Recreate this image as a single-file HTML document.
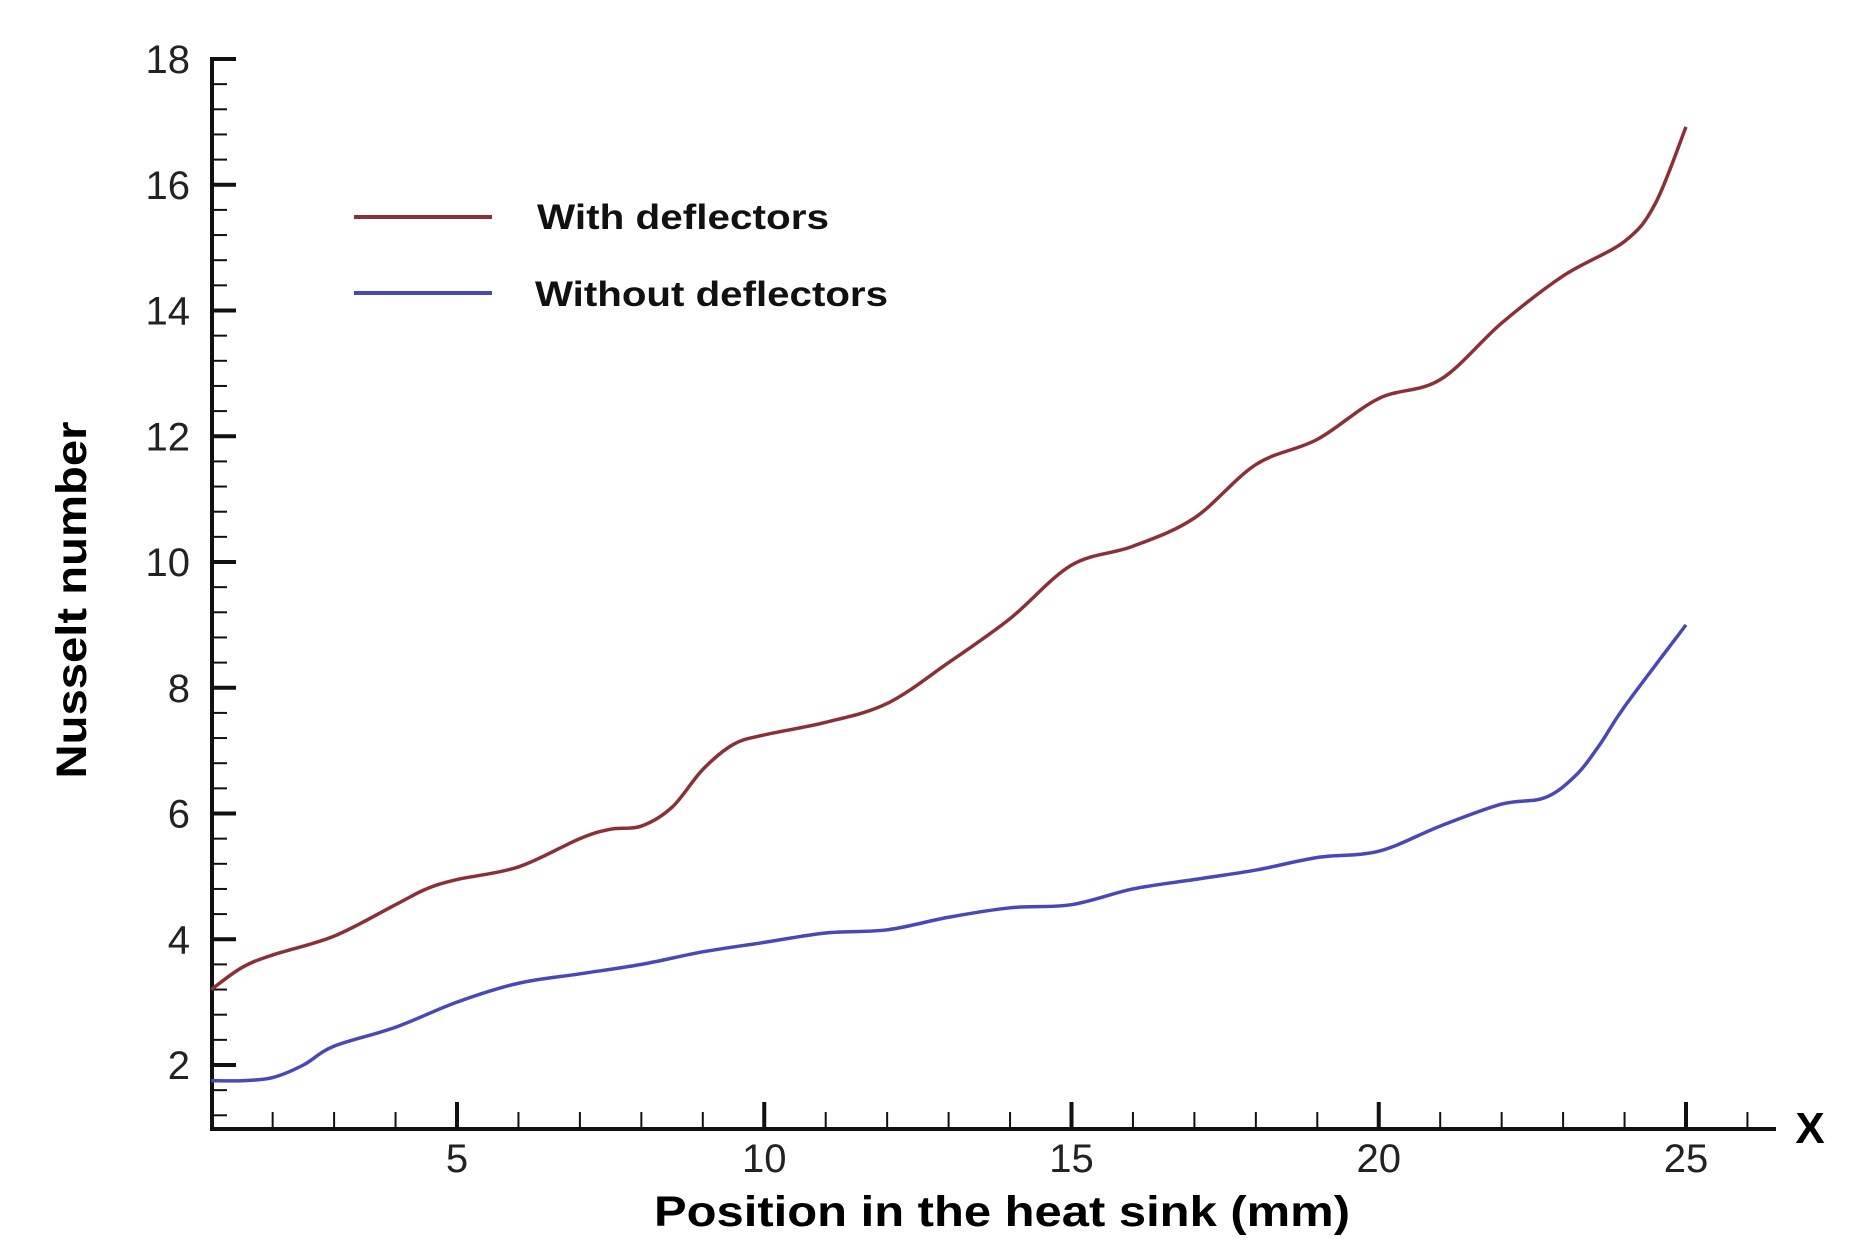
<!DOCTYPE html>
<html><head><meta charset="utf-8"><style>
html,body{margin:0;padding:0;background:#fff;}
svg{display:block;font-family:"Liberation Sans",Arial,sans-serif;}
</style></head><body>
<svg id="chart" width="1855" height="1259" viewBox="0 0 1855 1259">
<g id="axes"></g>
<g id="series"></g>
<text x="1810" y="1143" font-size="44" font-weight="bold" text-anchor="middle">X</text>
<text x="1002" y="1226" font-size="43" font-weight="bold" text-anchor="middle" textLength="696" lengthAdjust="spacingAndGlyphs">Position in the heat sink (mm)</text>
<text transform="translate(86,600) rotate(-90)" font-size="43" font-weight="bold" text-anchor="middle" textLength="357" lengthAdjust="spacingAndGlyphs">Nusselt number</text>
<g>
<line x1="354" y1="217" x2="492" y2="217" stroke="#8c3038" stroke-width="4"/>
<text x="537" y="229" font-size="35" font-weight="bold" textLength="292" lengthAdjust="spacingAndGlyphs" fill="#111">With deflectors</text>
<line x1="354" y1="293" x2="492" y2="293" stroke="#4848b8" stroke-width="4"/>
<text x="535" y="306" font-size="35" font-weight="bold" textLength="353" lengthAdjust="spacingAndGlyphs" fill="#111">Without deflectors</text>
</g>
</svg>
<script>
const xTicks = [5, 10, 15, 20, 25];
const yTicks = [2, 4, 6, 8, 10, 12, 14, 16, 18];
const withX = [1,1.5,2,3,4,4.5,5,6,7,7.5,8,8.5,9,9.5,10,11,12,13,14,15,16,17,18,19,20,21,22,23,24,24.5,25];
const withY = [3.2,3.55,3.75,4.05,4.55,4.8,4.95,5.15,5.6,5.75,5.8,6.1,6.7,7.1,7.25,7.45,7.75,8.4,9.1,9.95,10.25,10.7,11.55,11.95,12.6,12.9,13.8,14.55,15.1,15.7,16.92];
const withoutX = [1,1.5,2,2.5,3,4,5,6,7,8,9,10,11,12,13,14,15,16,17,18,19,20,21,22,22.7,23.2,23.6,24,25];
const withoutY = [1.75,1.75,1.8,2.0,2.3,2.6,3.0,3.3,3.45,3.6,3.8,3.95,4.1,4.15,4.35,4.5,4.55,4.8,4.95,5.1,5.3,5.4,5.8,6.15,6.25,6.6,7.1,7.7,9.0];

const NS = "http://www.w3.org/2000/svg";
const X0 = 212, Y0 = 1129;
function sx(v){ return 457 + (v - 5) * 61.45; }
function sy(v){ return 59 + (18 - v) * 62.875; }
function mk(tag, attrs, parent){ const e = document.createElementNS(NS, tag); for (const k in attrs) e.setAttribute(k, attrs[k]); parent.appendChild(e); return e; }

const axes = document.getElementById('axes');
let l = mk('line', {x1:X0, y1:Y0, x2:1776, y2:Y0, stroke:'#111', 'stroke-width':4}, axes);


l = mk('line', {x1:X0, y1:Y0+2, x2:X0, y2:sy(18)-2, stroke:'#111', 'stroke-width':4}, axes);



for (let v = 2; v <= 26; v++) {
  const major = v % 5 === 0;
  const t = mk('line', {x1:sx(v), y1:Y0, x2:sx(v), y2:Y0 - (major ? 27 : 17), stroke:'#111', 'stroke-width': major ? 4 : 2}, axes);
  
  
}
xTicks.forEach(v => {
  const t = mk('text', {x:sx(v), y:1172, 'font-size':40, 'text-anchor':'middle', fill:'#222'}, axes);
  t.textContent = String(v);
  
  
});
for (let i = 0; i <= 42; i++) {
  const v = 1.2 + i * 0.4;
  if (v > 18.01) break;
  const major = Math.abs(v / 2 - Math.round(v / 2)) < 0.01;
  const t = mk('line', {x1:X0, y1:sy(v), x2:X0 + (major ? 24 : 15), y2:sy(v), stroke:'#111', 'stroke-width': major ? 4 : 2}, axes);
  
  
}
yTicks.forEach(v => {
  const t = mk('text', {x:190, y:sy(v) + 14, 'font-size':40, 'text-anchor':'end', fill:'#222'}, axes);
  t.textContent = String(v);
  
  
});

function path(xs, ys){
  const p = xs.map((x, i) => [sx(x), sy(ys[i])]);
  let d = 'M' + p[0][0] + ',' + p[0][1];
  for (let i = 0; i < p.length - 1; i++) {
    const p0 = p[i-1] || p[i], p1 = p[i], p2 = p[i+1], p3 = p[i+2] || p2;
    const c1x = p1[0] + (p2[0] - p0[0]) / 6, c1y = p1[1] + (p2[1] - p0[1]) / 6;
    const c2x = p2[0] - (p3[0] - p1[0]) / 6, c2y = p2[1] - (p3[1] - p1[1]) / 6;
    d += ' C' + c1x + ',' + c1y + ' ' + c2x + ',' + c2y + ' ' + p2[0] + ',' + p2[1];
  }
  return d;
}
const series = document.getElementById('series');
const r = mk('path', {d:path(withX, withY), fill:'none', stroke:'#8c3038', 'stroke-width':3.5, 'stroke-linejoin':'round'}, series);


const b = mk('path', {d:path(withoutX, withoutY), fill:'none', stroke:'#4848b8', 'stroke-width':3.5, 'stroke-linejoin':'round'}, series);


</script>
</body></html>
